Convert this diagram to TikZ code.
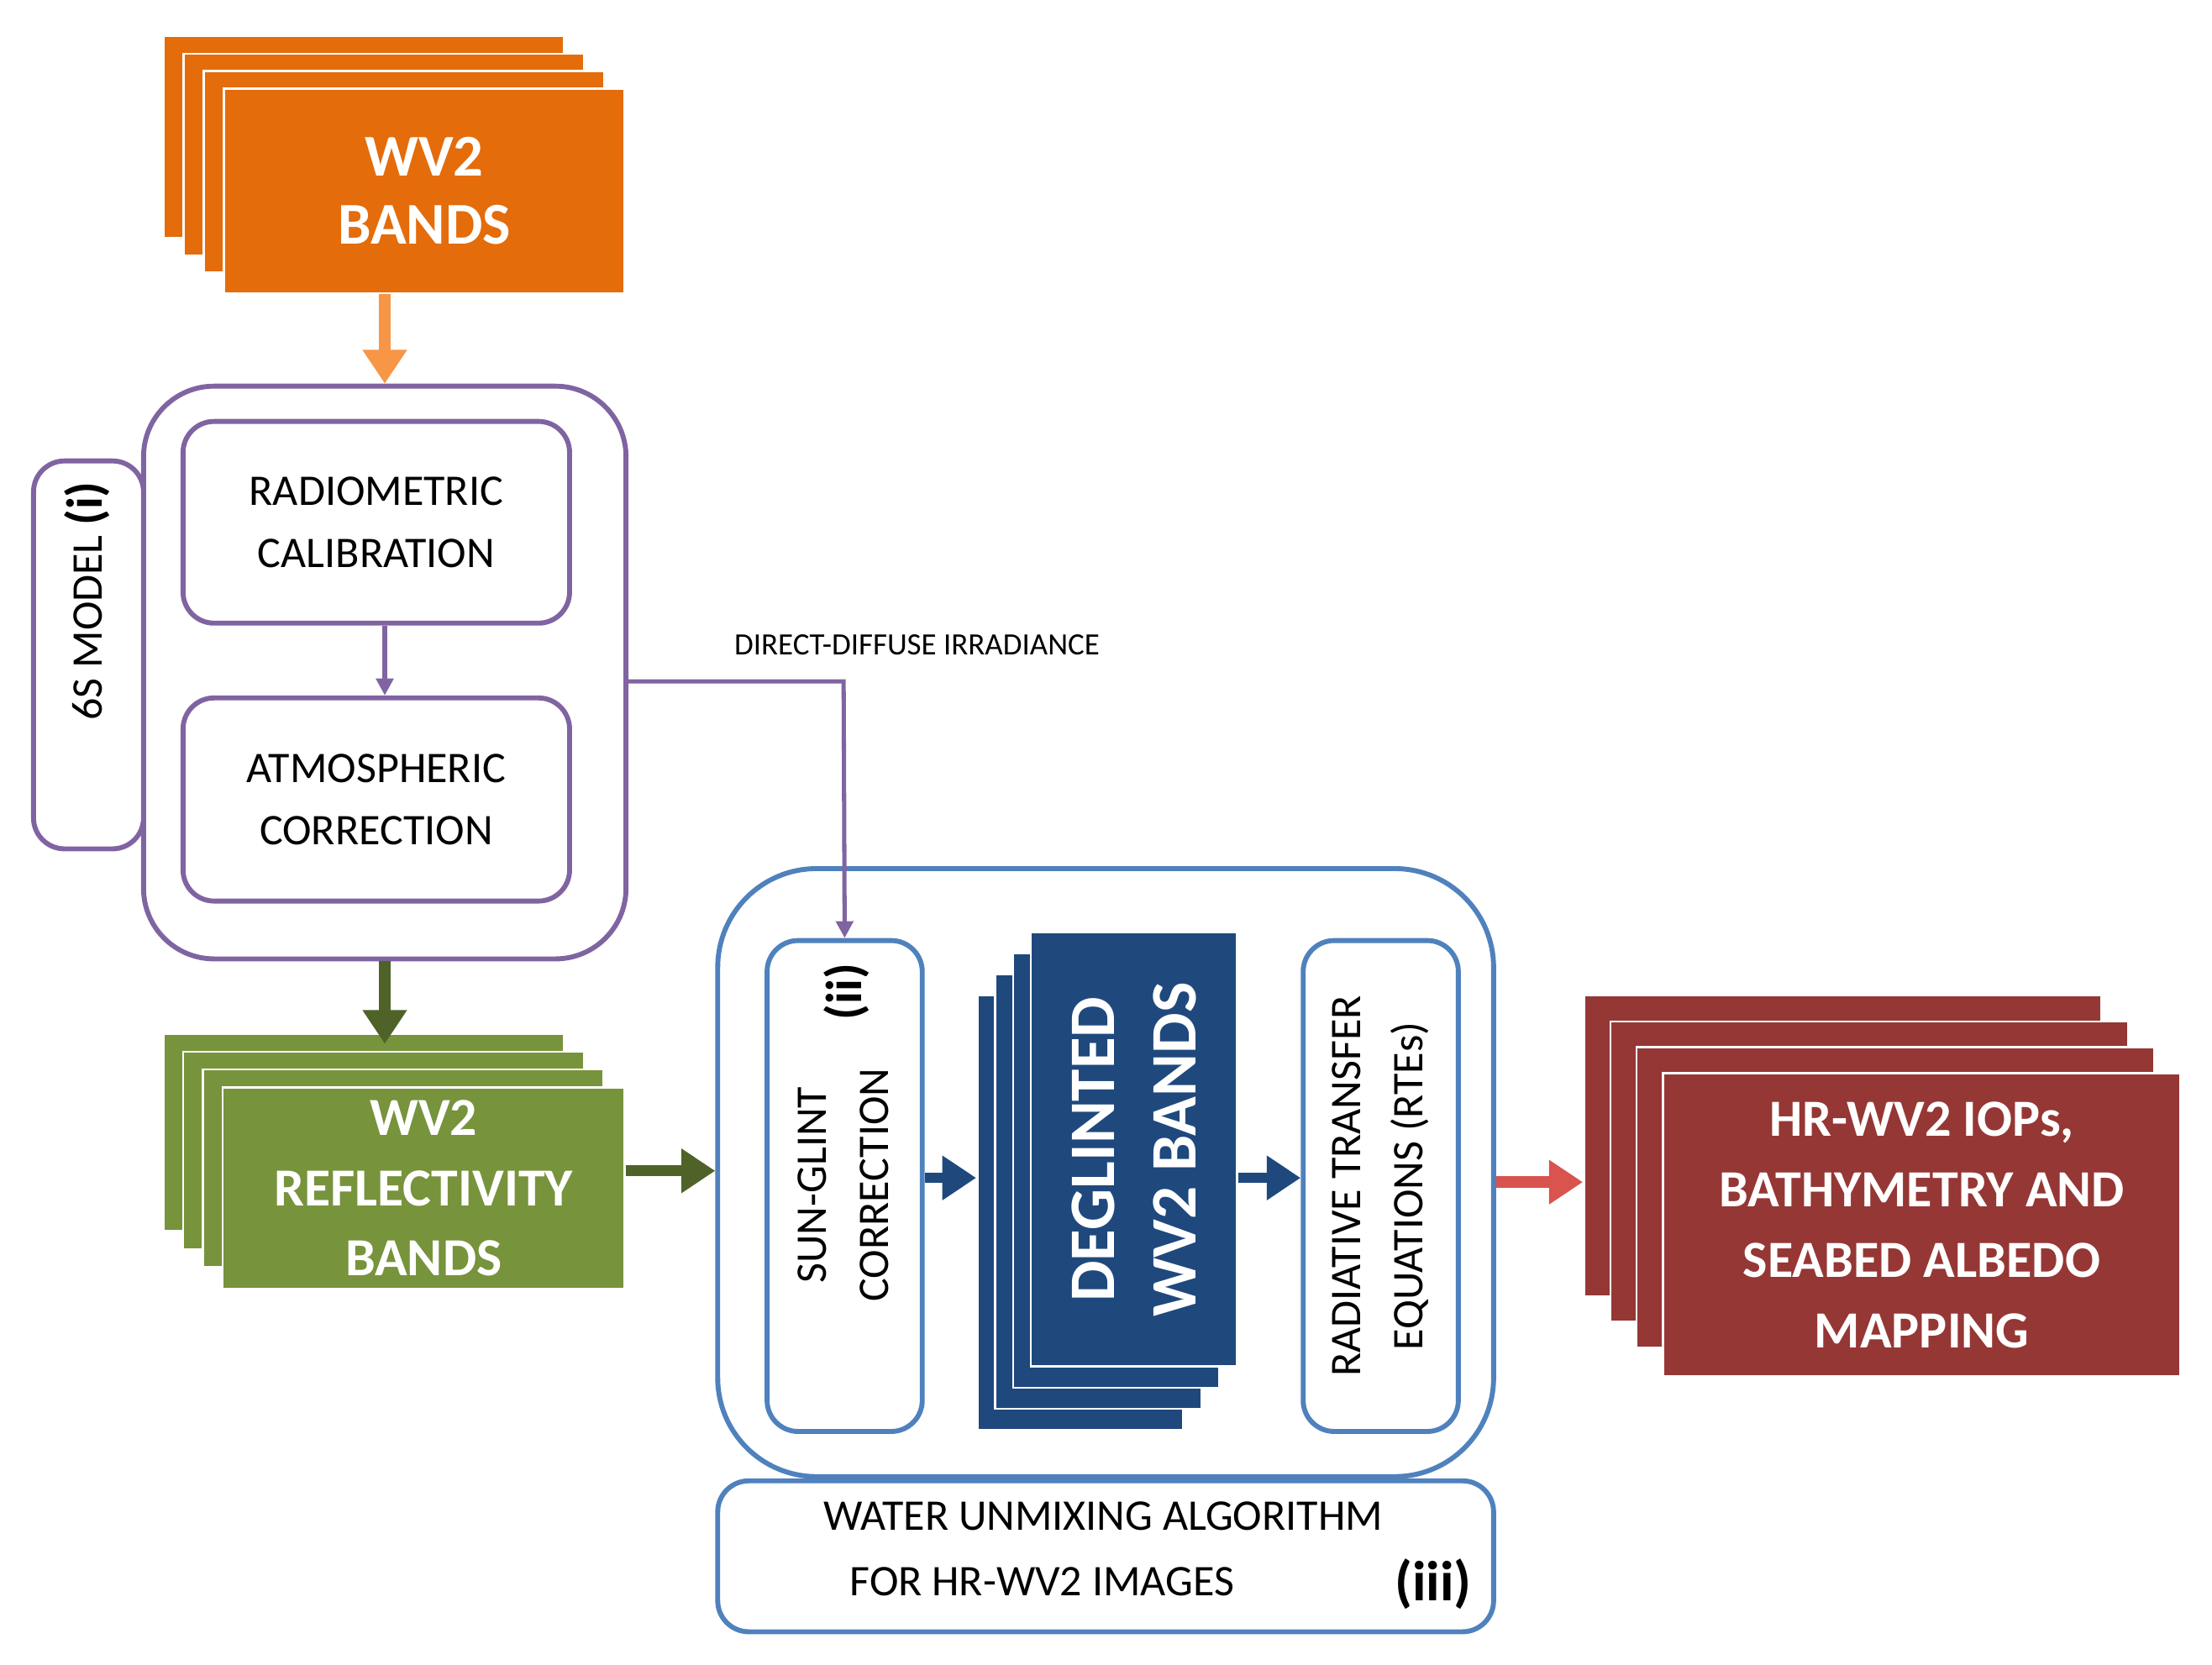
\documentclass[tikz,border=0pt]{standalone}
\usepackage{fontspec}
\setmainfont{Carlito}
\usetikzlibrary{arrows.meta}
\definecolor{orng}{HTML}{E46C0A}
\definecolor{lorng}{HTML}{F79646}
\definecolor{purp}{HTML}{8064A2}
\definecolor{grn}{HTML}{77933C}
\definecolor{dgrn}{HTML}{4F6228}
\definecolor{blu}{HTML}{4F81BD}
\definecolor{dblu}{HTML}{1F497D}
\definecolor{rd}{HTML}{953735}
\definecolor{lrd}{HTML}{D9534F}
\begin{document}
\begin{tikzpicture}[x=1pt,y=-1pt,
 lay/.style={draw=white,line width=1.5pt,anchor=north west,inner sep=0pt},
 box/.style={draw=#1,line width=3.5pt,rounded corners=22pt,anchor=north west,inner sep=0pt,fill=white},
 arr/.style={draw=#1,line width=8pt,-{Triangle[length=24pt,width=30pt]}},
 thin/.style={draw=#1,line width=3pt,-{Triangle[length=12pt,width=12pt]}},
 big/.style={text=white,font=\bfseries\fontsize{42}{48}\selectfont,align=center},
 reg/.style={font=\fontsize{31}{44}\selectfont,align=center}]
\useasboundingbox (0,0) rectangle (1568,1180);
% orange stack
\foreach \i in {0,1,2}{\node[lay,fill=orng,minimum width=284pt,minimum height=143pt] at (115+14.3*\i,25+12.3*\i) {};}
\node[lay,fill=orng,minimum width=284pt,minimum height=145pt,big] (orange) at (158,62) {WV2\\BANDS};
% purple group
\node[box=purp,rounded corners=50pt,minimum width=342pt,minimum height=406pt] (purple) at (100,272) {};
\node[box=purp,minimum width=78pt,minimum height=275pt] (six) at (22,325) {};
\node[rotate=90,reg] at (62,445) {6S MODEL};
\node[rotate=90,font=\bfseries\fontsize{36}{40}\selectfont] at (62,357) {(i)};
\node[box=purp,minimum width=274pt,minimum height=143pt,reg] (radio) at (128,297) {};
\node[reg] at (radio.center) {RADIOMETRIC\\CALIBRATION};
\node[box=purp,minimum width=274pt,minimum height=144pt] (atmo) at (128,493) {};
\node[reg] at (atmo.center) {ATMOSPHERIC\\CORRECTION};
\draw[thin=purp] (radio.south -| purple.north) -- (atmo.north -| purple.north);
\draw[arr=lorng] (purple.north |- orange.south) -- (purple.north);
% green stack
\foreach \i in {0,1,2}{\node[lay,fill=grn,minimum width=284pt,minimum height=140pt] at (115+14*\i,732+12.7*\i) {};}
\node[lay,fill=grn,minimum width=285pt,minimum height=143pt,big,font=\bfseries\fontsize{38}{50}\selectfont] (green) at (157,770) {WV2\\REFLECTIVITY\\BANDS};
\draw[arr=dgrn] (purple.south) -- (purple.south |- 0,740);
% blue group
\node[box=blu,rounded corners=70pt,minimum width=550pt,minimum height=431pt] (blue) at (507,614) {};
\draw[arr=dgrn] (green.east |- 0,830) -- (blue.west |- 0,830);
\node[box=blu,minimum width=550pt,minimum height=107pt] (water) at (507,1048) {};
\node[reg,font=\fontsize{31}{46}\selectfont] at (782,1100) {WATER UNMIXING ALGORITHM\\FOR HR-WV2 IMAGES\hspace{1.5em}\phantom{(iii)}};
\node[font=\bfseries\fontsize{40}{44}\selectfont] at (1016,1123) {(iii)};
\node[box=blu,minimum width=110pt,minimum height=348pt] (sun) at (542,665) {};
\node[rotate=90,reg] at (598,840) {SUN-GLINT\\CORRECTION};
\node[rotate=90,font=\bfseries\fontsize{36}{40}\selectfont] at (600,703) {(ii)};
\foreach \i in {0,1,2}{\node[lay,fill=dblu,minimum width=146pt,minimum height=308pt] at (692+12.7*\i,705-15*\i) {};}
\node[lay,fill=dblu,minimum width=146pt,minimum height=308pt] (degl) at (730,660) {};
\node[rotate=90,big,font=\bfseries\fontsize{46}{58}\selectfont] at (degl.center) {DEGLINTED\\WV2 BANDS};
\node[box=blu,minimum width=110pt,minimum height=348pt] (rte) at (922,665) {};
\node[rotate=90,reg] at (rte.center) {RADIATIVE TRANSFER\\EQUATIONS (RTEs)};
\draw[arr=dblu,line width=7pt] (sun.east |- 0,835) -- (692,835);
\draw[arr=dblu,line width=7pt] (degl.east |- 0,835) -- (rte.west |- 0,835);
% direct diffuse
\draw[thin=purp] (purple.east |- 0,483) -- (598,483) -- (sun.north);
\node[font=\fontsize{22}{26}\selectfont] at (650,457) {DIRECT-DIFFUSE IRRADIANCE};
% red stack
\foreach \i in {0,1,2}{\node[lay,fill=rd,minimum width=367pt,minimum height=213pt] at (1122+18.7*\i,705+18.3*\i) {};}
\node[lay,fill=rd,minimum width=367pt,minimum height=215pt,big,font=\bfseries\fontsize{37}{50}\selectfont] (red) at (1178,760) {HR-WV2 IOPs,\\BATHYMETRY AND\\SEABED ALBEDO\\MAPPING};
\draw[arr=lrd] (blue.east |- 0,838) -- (1122,838);
\end{tikzpicture}
\end{document}
